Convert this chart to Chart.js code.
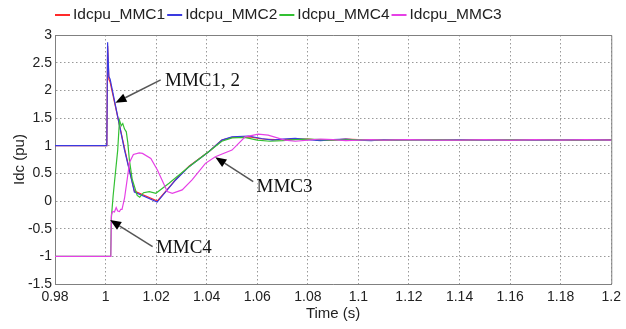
<!DOCTYPE html>
<html>
<head>
<meta charset="utf-8">
<script src="https://cdn.jsdelivr.net/npm/chart.js@4"></script>
<style>
  html, body { margin: 0; padding: 0; background: #fff; }
  #wrap { width: 626px; height: 329px; }
</style>
</head>
<body>
<div id="wrap"><canvas id="idcChart"></canvas></div>
<script>
// tick labels
const xTicks = [0.98, 1, 1.02, 1.04, 1.06, 1.08, 1.1, 1.12, 1.14, 1.16, 1.18, 1.2];
const yTicks = [-1.5, -1, -0.5, 0, 0.5, 1, 1.5, 2, 2.5, 3];

// series names (legend order)
const seriesNames = ['Idcpu_MMC1', 'Idcpu_MMC2', 'Idcpu_MMC4', 'Idcpu_MMC3'];

// MMC1
const mmc1T = [0.98, 1.0005, 1.0008, 1.0013, 1.0018, 1.0075, 1.010, 1.0114, 1.0205, 1.028, 1.033, 1.041, 1.046, 1.050, 1.057, 1.062, 1.067,
  1.07, 1.075, 1.08, 1.085, 1.09, 1.095, 1.10, 1.105, 1.11, 1.12, 1.13, 1.14, 1.15, 1.16, 1.17, 1.18, 1.19, 1.2];
const mmc1V = [1.0, 1.0, 2.8, 2.2, 2.15, 0.95, 0.45, 0.18, 0.0, 0.4, 0.63, 0.9, 1.1, 1.15, 1.16, 1.12, 1.11,
  1.11, 1.12, 1.12, 1.10, 1.10, 1.12, 1.11, 1.10, 1.10, 1.11, 1.11, 1.10, 1.11, 1.10, 1.11, 1.10, 1.10, 1.11];

// MMC2
const mmc2T = [0.98, 1.0005, 1.0008, 1.0013, 1.0018, 1.0075, 1.010, 1.0114, 1.0204, 1.0277, 1.033, 1.0408, 1.046, 1.050, 1.0565, 1.0617, 1.066,
  1.07, 1.075, 1.08, 1.085, 1.09, 1.095, 1.10, 1.105, 1.11, 1.115, 1.12, 1.13, 1.14, 1.15, 1.16, 1.17, 1.18, 1.19, 1.2];
const mmc2V = [1.0, 1.0, 2.87, 2.25, 2.2, 0.92, 0.44, 0.16, -0.02, 0.38, 0.62, 0.89, 1.10, 1.16, 1.175, 1.13, 1.10,
  1.12, 1.13, 1.11, 1.09, 1.11, 1.12, 1.10, 1.09, 1.11, 1.10, 1.11, 1.10, 1.11, 1.10, 1.11, 1.10, 1.10, 1.11, 1.10];

// MMC4
const mmc4T = [0.98, 1.0020, 1.0023, 1.0030, 1.0035, 1.0048, 1.0055, 1.0062, 1.0068, 1.0075, 1.0082, 1.0088, 1.0094, 1.0105, 1.0125, 1.0135,
  1.015, 1.0173, 1.0199, 1.0251, 1.033, 1.041, 1.046, 1.050, 1.055, 1.06, 1.065, 1.07, 1.075, 1.08, 1.085, 1.09, 1.10, 1.11, 1.12, 1.13, 1.14, 1.16, 1.18, 1.2];
const mmc4V = [-1.0, -1.0, -0.3, 0.1, 0.33, 0.92, 1.46, 1.36, 1.40, 1.30, 1.25, 1.05, 0.75, 0.4, 0.1, 0.07,
  0.15, 0.17, 0.14, 0.32, 0.62, 0.9, 1.08, 1.14, 1.15, 1.10, 1.08, 1.09, 1.11, 1.12, 1.11, 1.10, 1.11, 1.10, 1.10, 1.11, 1.10, 1.11, 1.10, 1.10];

// MMC3
const mmc3T = [0.98, 1.0021, 1.0023, 1.0028, 1.0035, 1.0042, 1.0048, 1.0055, 1.006, 1.0065, 1.0075, 1.0095, 1.011, 1.0133, 1.0146, 1.0179, 1.0205,
  1.0244, 1.0264, 1.0303, 1.0342, 1.0395, 1.0434, 1.050, 1.0552, 1.0604, 1.0643, 1.0709, 1.075, 1.08, 1.085, 1.09, 1.095, 1.10, 1.105, 1.11,
  1.12, 1.13, 1.14, 1.15, 1.16, 1.17, 1.18, 1.19, 1.2];
const mmc3V = [-1.0, -1.0, -0.25, -0.19, -0.2, -0.12, -0.18, -0.19, -0.15, -0.15, 0.05, 0.7, 0.84, 0.87, 0.86, 0.77, 0.56,
  0.17, 0.14, 0.2, 0.38, 0.68, 0.8, 0.92, 1.16, 1.21, 1.19, 1.10, 1.08, 1.10, 1.12, 1.11, 1.09, 1.10, 1.11, 1.10,
  1.11, 1.10, 1.10, 1.11, 1.10, 1.11, 1.10, 1.11, 1.10];

// arrow annotations (data coordinates)
const annoText = ['MMC1, 2', 'MMC3', 'MMC4'];
const annoTextT = [1.0235, 1.0597, 1.0199];
const annoTextV = [2.16, 0.25, -0.855];
const annoTailT = [1.0218, 1.0584, 1.0186];
const annoTailV = [2.19, 0.35, -0.826];
const annoTipT = [1.0039, 1.0434, 1.0018];
const annoTipV = [1.776, 0.79, -0.343];

const colors = ['#ff2a2a', '#3a3ae0', '#33c033', '#e640e6'];

function toPoints(ts, vs) {
  return ts.map((t, i) => ({ x: t, y: vs[i] }));
}

const seriesData = [toPoints(mmc1T, mmc1V), toPoints(mmc2T, mmc2V), toPoints(mmc4T, mmc4V), toPoints(mmc3T, mmc3V)];

// legend, plot frame and arrows
const extras = {
  id: 'extras',
  afterDraw(chart) {
    const ctx = chart.ctx;
    const area = chart.chartArea;
    const xs = chart.scales.x, ys = chart.scales.y;
    ctx.save();

    // frame top + right
    ctx.strokeStyle = '#808080';
    ctx.lineWidth = 1;
    ctx.beginPath();
    ctx.moveTo(area.left, area.top + 0.5);
    ctx.lineTo(area.right + 0.5, area.top + 0.5);
    ctx.lineTo(area.right + 0.5, area.bottom);
    ctx.stroke();

    // legend
    ctx.font = '15.5px "Liberation Sans", Arial, sans-serif';
    ctx.textBaseline = 'middle';
    let lx = area.left;
    const ly = 15;
    seriesNames.forEach((name, i) => {
      ctx.strokeStyle = colors[i];
      ctx.lineWidth = 2;
      ctx.beginPath();
      ctx.moveTo(lx, ly);
      ctx.lineTo(lx + 15, ly);
      ctx.stroke();
      ctx.fillStyle = '#222';
      ctx.fillText(name, lx + 18, ly);
      lx += 18 + ctx.measureText(name).width + 2;
    });

    // arrows
    ctx.font = '19px "Liberation Serif", "Times New Roman", serif';
    annoText.forEach((txt, i) => {
      const tx = xs.getPixelForValue(annoTailT[i]), ty = ys.getPixelForValue(annoTailV[i]);
      const hx = xs.getPixelForValue(annoTipT[i]), hy = ys.getPixelForValue(annoTipV[i]);
      const ang = Math.atan2(hy - ty, hx - tx);
      const headLen = 11, headW = 4.5;
      const bx = hx - headLen * Math.cos(ang), by = hy - headLen * Math.sin(ang);
      ctx.strokeStyle = '#555';
      ctx.lineWidth = 1.5;
      ctx.beginPath();
      ctx.moveTo(tx, ty);
      ctx.lineTo(bx, by);
      ctx.stroke();
      ctx.fillStyle = '#000';
      ctx.beginPath();
      ctx.moveTo(hx, hy);
      ctx.lineTo(bx + headW * Math.sin(ang), by - headW * Math.cos(ang));
      ctx.lineTo(bx - headW * Math.sin(ang), by + headW * Math.cos(ang));
      ctx.closePath();
      ctx.fill();
      ctx.fillStyle = '#111';
      ctx.textAlign = 'left';
      ctx.fillText(txt, xs.getPixelForValue(annoTextT[i]), ys.getPixelForValue(annoTextV[i]));
    });
    ctx.restore();
  }
};

const ctx = document.getElementById('idcChart').getContext('2d');
const chart = new Chart(ctx, {
  type: 'line',
  data: {
    datasets: seriesNames.map((name, i) => ({
      label: name,
      data: seriesData[i],
      borderColor: colors[i],
      borderWidth: 1.2,
      pointRadius: 0,
      tension: 0,
      order: 3 - i
    }))
  },
  options: {
    animation: false,
    maintainAspectRatio: false,
    responsive: true,
    layout: { padding: { top: 35, right: 10, left: 0, bottom: 0 } },
    plugins: { legend: { display: false }, tooltip: { enabled: false } },
    scales: {
      x: {
        type: 'linear',
        min: 0.98,
        max: 1.2,
        afterBuildTicks: (scale) => { scale.ticks = xTicks.map(v => ({ value: v })); },
        afterFit: (scale) => { scale.height = 45; },
        ticks: {
          color: '#222',
          font: { family: '"Liberation Sans", Arial, sans-serif', size: 14 },
          padding: 5,
          maxRotation: 0,
          autoSkip: false,
          callback: (v) => String(parseFloat(Number(v).toFixed(2)))
        },
        grid: { color: '#999', drawTicks: false },
        border: { color: '#808080', dash: [1.5, 2.5] },
        title: {
          display: true,
          text: 'Time (s)',
          color: '#222',
          font: { family: '"Liberation Sans", Arial, sans-serif', size: 15 },
          padding: { top: 0, bottom: 6 }
        }
      },
      y: {
        type: 'linear',
        min: -1.5,
        max: 3,
        afterBuildTicks: (scale) => { scale.ticks = yTicks.map(v => ({ value: v })); },
        afterFit: (scale) => { scale.width = 55; },
        ticks: {
          color: '#222',
          font: { family: '"Liberation Sans", Arial, sans-serif', size: 14 },
          padding: 3,
          callback: (v) => String(v)
        },
        grid: { color: '#999', drawTicks: false },
        border: { color: '#808080', dash: [1.5, 2.5] },
        title: {
          display: true,
          text: 'Idc (pu)',
          color: '#222',
          font: { family: '"Liberation Sans", Arial, sans-serif', size: 15 },
          padding: { top: 11, bottom: 0 }
        }
      }
    }
  },
  plugins: [extras]
});
</script>
</body>
</html>
